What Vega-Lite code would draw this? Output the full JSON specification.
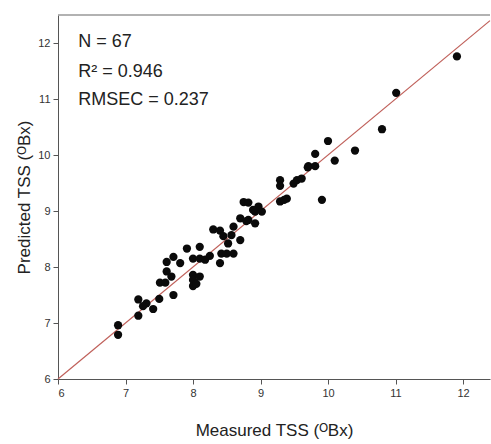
{
  "$schema": "https://vega.github.io/schema/vega-lite/v6.json",
  "width": 432,
  "height": 364,
  "autosize": {"type": "none"},
  "padding": {"left": 58, "top": 15, "right": 1, "bottom": 65},
  "background": "white",
  "config": {
    "view": {"stroke": null},
    "axis": {
      "grid": false,
      "domainColor": "#555",
      "tickColor": "#555",
      "labelColor": "#333",
      "labelFont": "Liberation Sans",
      "labelFontSize": 11,
      "titleFont": "Liberation Sans",
      "titleFontSize": 17,
      "titleFontWeight": "normal",
      "titleColor": "#222"
    }
  },
  "datasets": {
    "pts": [
      {"measured": 6.89, "predicted": 6.96},
      {"measured": 6.89, "predicted": 6.79},
      {"measured": 7.19, "predicted": 7.42},
      {"measured": 7.19, "predicted": 7.13},
      {"measured": 7.31, "predicted": 7.35},
      {"measured": 7.41, "predicted": 7.25},
      {"measured": 7.50, "predicted": 7.43},
      {"measured": 7.51, "predicted": 7.72},
      {"measured": 7.59, "predicted": 7.72},
      {"measured": 7.61, "predicted": 7.92},
      {"measured": 7.68, "predicted": 7.83},
      {"measured": 7.71, "predicted": 7.50},
      {"measured": 7.61, "predicted": 8.09},
      {"measured": 7.71, "predicted": 8.18},
      {"measured": 7.81, "predicted": 8.07},
      {"measured": 7.91, "predicted": 8.33},
      {"measured": 8.00, "predicted": 8.15},
      {"measured": 8.10, "predicted": 8.36},
      {"measured": 8.10, "predicted": 8.15},
      {"measured": 8.18, "predicted": 8.13},
      {"measured": 8.00, "predicted": 7.86},
      {"measured": 8.00, "predicted": 7.77},
      {"measured": 8.00, "predicted": 7.66},
      {"measured": 8.10, "predicted": 7.83},
      {"measured": 8.30, "predicted": 8.67},
      {"measured": 8.40, "predicted": 8.65},
      {"measured": 8.42, "predicted": 8.24},
      {"measured": 8.40, "predicted": 8.07},
      {"measured": 8.50, "predicted": 8.24},
      {"measured": 8.60, "predicted": 8.24},
      {"measured": 8.52, "predicted": 8.42},
      {"measured": 8.57, "predicted": 8.57},
      {"measured": 8.70, "predicted": 8.48},
      {"measured": 8.60, "predicted": 8.72},
      {"measured": 8.70, "predicted": 8.87},
      {"measured": 8.75, "predicted": 9.16},
      {"measured": 8.82, "predicted": 9.15},
      {"measured": 8.82, "predicted": 8.84},
      {"measured": 8.92, "predicted": 8.78},
      {"measured": 8.92, "predicted": 8.99},
      {"measured": 8.97, "predicted": 9.08},
      {"measured": 9.02, "predicted": 8.99},
      {"measured": 9.29, "predicted": 9.55},
      {"measured": 9.29, "predicted": 9.45},
      {"measured": 9.29, "predicted": 9.17},
      {"measured": 9.39, "predicted": 9.22},
      {"measured": 9.49, "predicted": 9.49},
      {"measured": 9.54, "predicted": 9.55},
      {"measured": 9.61, "predicted": 9.58},
      {"measured": 9.71, "predicted": 9.80},
      {"measured": 9.81, "predicted": 9.80},
      {"measured": 9.81, "predicted": 10.02},
      {"measured": 9.91, "predicted": 9.20},
      {"measured": 10.10, "predicted": 9.90},
      {"measured": 10.00, "predicted": 10.25},
      {"measured": 10.40, "predicted": 10.08},
      {"measured": 10.80, "predicted": 10.46},
      {"measured": 11.01, "predicted": 11.11},
      {"measured": 11.91, "predicted": 11.76},
      {"measured": 8.79, "predicted": 8.82},
      {"measured": 8.89, "predicted": 9.02},
      {"measured": 8.45, "predicted": 8.55},
      {"measured": 7.26, "predicted": 7.30},
      {"measured": 8.25, "predicted": 8.20},
      {"measured": 9.35, "predicted": 9.20},
      {"measured": 8.05, "predicted": 7.70},
      {"measured": 9.70, "predicted": 9.78}
    ],
    "fit": [
      {"measured": 6, "predicted": 6},
      {"measured": 12.4, "predicted": 12.4}
    ],
    "stats": [
      {"label": "N = 67", "row": 1},
      {"label": "R² = 0.946", "row": 2},
      {"label": "RMSEC = 0.237", "row": 3}
    ]
  },
  "layer": [
    {
      "data": {"name": "fit"},
      "mark": {"type": "line", "color": "#c0605a", "strokeWidth": 1.2},
      "encoding": {
        "x": {
          "field": "measured", "type": "quantitative",
          "scale": {"domain": [6, 12.4], "nice": false, "zero": false},
          "axis": {
            "title": "Measured TSS (ᴼBx)",
            "values": [6, 6.5, 7, 7.5, 8, 8.5, 9, 9.5, 10, 10.5, 11, 11.5, 12],
            "labelExpr": "datum.value % 1 === 0 ? format(datum.value, 'd') : ''",
            "tickSize": {"condition": {"test": "datum.value % 1 === 0", "value": 5}, "value": 3},
            "labelPadding": 3,
            "titlePadding": 24
          }
        },
        "y": {
          "field": "predicted", "type": "quantitative",
          "scale": {"domain": [6, 12.5], "nice": false, "zero": false},
          "axis": {
            "title": "Predicted TSS (ᴼBx)",
            "values": [6, 6.5, 7, 7.5, 8, 8.5, 9, 9.5, 10, 10.5, 11, 11.5, 12],
            "labelExpr": "datum.value % 1 === 0 ? format(datum.value, 'd') : ''",
            "tickSize": {"condition": {"test": "datum.value % 1 === 0", "value": 5}, "value": 3},
            "labelPadding": 3,
            "titlePadding": 4
          }
        }
      }
    },
    {
      "data": {"name": "pts"},
      "mark": {"type": "circle", "color": "#0a0a0a", "opacity": 1, "size": 68},
      "encoding": {
        "x": {"field": "measured", "type": "quantitative"},
        "y": {"field": "predicted", "type": "quantitative"}
      }
    },
    {
      "data": {"values": [{}]},
      "mark": {"type": "rule", "color": "#999", "strokeWidth": 1.5},
      "encoding": {"y": {"datum": 12.5}}
    },
    {
      "data": {"name": "stats"},
      "transform": [{"filter": "datum.row === 1"}],
      "mark": {"type": "text", "align": "left", "baseline": "middle", "font": "Liberation Sans", "fontSize": 18, "color": "#222"},
      "encoding": {"x": {"datum": 6.3}, "y": {"datum": 12.02}, "text": {"field": "label"}}
    },
    {
      "data": {"name": "stats"},
      "transform": [{"filter": "datum.row === 2"}],
      "mark": {"type": "text", "align": "left", "baseline": "middle", "font": "Liberation Sans", "fontSize": 18, "color": "#222"},
      "encoding": {"x": {"datum": 6.3}, "y": {"datum": 11.48}, "text": {"field": "label"}}
    },
    {
      "data": {"name": "stats"},
      "transform": [{"filter": "datum.row === 3"}],
      "mark": {"type": "text", "align": "left", "baseline": "middle", "font": "Liberation Sans", "fontSize": 18, "color": "#222"},
      "encoding": {"x": {"datum": 6.3}, "y": {"datum": 10.98}, "text": {"field": "label"}}
    }
  ]
}
